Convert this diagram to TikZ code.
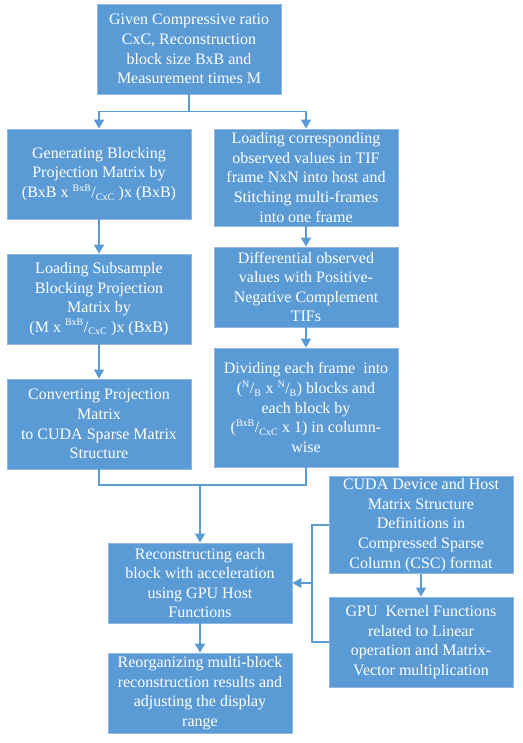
\documentclass[tikz,border=0pt]{standalone}
\usepackage{fontspec}
\setmainfont{Liberation Serif}
\usetikzlibrary{arrows.meta,shadows}
\definecolor{boxblue}{HTML}{5B9BD5}
\definecolor{boxedge}{HTML}{8FB8E2}
\definecolor{linkblue}{HTML}{5B9BD5}
\begin{document}
\begin{tikzpicture}[x=1pt,y=1pt,
  fbox/.style={rectangle, fill=boxblue, draw=boxedge, line width=0.8pt,
    text=white, align=center, minimum width=184pt, inner sep=2pt,
    font=\fontsize{16}{19.6}\selectfont,
    drop shadow={shadow xshift=1pt,shadow yshift=-1pt,fill=black!18,opacity=0.6}},
  link/.style={draw=linkblue, line width=1.3pt},
  arr/.style={link, -{Triangle[width=10pt,length=9pt]}}]
\useasboundingbox (0,0) rectangle (522,-743);
\newcommand{\sups}[1]{\textsuperscript{\fontsize{10}{10}\selectfont #1}}
\newcommand{\subs}[1]{\textsubscript{\fontsize{10}{10}\selectfont #1}}
\node[fbox, minimum height=90pt] (top) at (189,-49) {Given Compressive ratio\\CxC, Reconstruction\\block size BxB and\\Measurement times M};
\node[fbox, minimum height=90pt] (L1) at (99,-174) {Generating Blocking\\Projection Matrix by\\(BxB x \sups{BxB}/\subs{CxC} )x (BxB)};
\node[fbox, minimum height=97pt] (R1) at (306,-177.5) {Loading corresponding\\observed values in TIF\\frame NxN into host and\\Stitching multi-frames\\into one frame};
\node[fbox, minimum height=90pt] (L2) at (99,-299) {Loading Subsample\\Blocking Projection\\Matrix by\\(M x \sups{BxB}/\subs{CxC} )x (BxB)};
\node[fbox, minimum height=80pt] (R2) at (306,-287) {Differential observed\\values with Positive-\\Negative Complement\\TIFs};
\node[fbox, minimum height=90pt] (L3) at (99,-424) {Converting Projection\\Matrix\\to CUDA Sparse Matrix\\Structure};
\node[fbox, minimum height=119pt] (R3) at (306,-407.5) {Dividing each frame\ \ into\\(\sups{N}/\subs{B} x \sups{N}/\subs{B}) blocks and\\each block by\\(\sups{BxB}/\subs{CxC} x 1) in column-\\wise};
\node[fbox, minimum height=80pt] (C) at (200,-583) {Reconstructing each\\block with acceleration\\using GPU Host\\Functions};
\node[fbox, minimum height=80pt] (D) at (200,-693) {Reorganizing multi-block\\reconstruction results and\\adjusting the display\\range};
\node[fbox, minimum height=96pt] (E) at (421,-525) {CUDA Device and Host\\Matrix Structure\\Definitions in\\Compressed Sparse\\Column (CSC) format};
\node[fbox, minimum height=90pt] (F) at (421,-642) {GPU\ \ Kernel Functions\\related to Linear\\operation and Matrix-\\Vector multiplication};
\coordinate (m) at (200,-485);
\coordinate (b) at (312,-583);
\draw[arr] (top.south) -- ++(0,-17) -| (L1.north);
\draw[arr] (top.south) -- ++(0,-17) -| (R1.north);
\draw[arr] (L1) -- (L2);
\draw[arr] (L2) -- (L3);
\draw[arr] (R1) -- (R2);
\draw[arr] (R2) -- (R3);
\draw[link] (L3.south) |- (m) -| (R3.south);
\draw[arr] (m) -- (C.north);
\draw[arr] (C) -- (D);
\draw[arr] (E) -- (F);
\draw[link] (E.west) -| (b) |- (F.west);
\draw[arr] (b) -- (C.east);
\end{tikzpicture}
\end{document}
